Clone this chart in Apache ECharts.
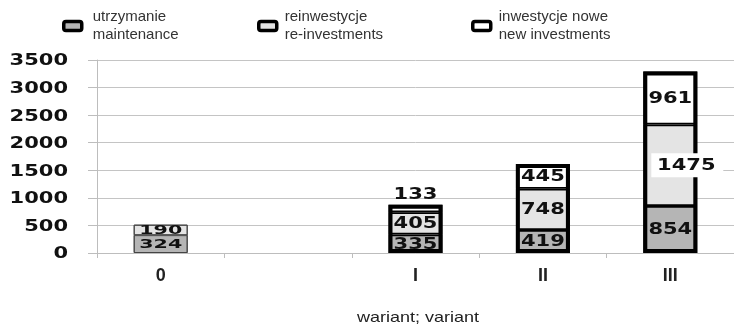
<!DOCTYPE html>
<html>
<head>
<meta charset="utf-8">
<script src="https://cdn.jsdelivr.net/npm/echarts@6/dist/echarts.min.js"></script>
<style>html,body{margin:0;padding:0;background:#fff}#c{width:734px;height:327px}</style>
</head>
<body>
<div id="c"></div>
<script>
const categories = ['0', '', 'I', 'II', 'III'];
const maintenance = [324, null, 335, 419, 854];
const reinvestments = [190, null, 405, 748, 1475];
const newInvestments = [null, null, 133, 445, 961];
const seriesNames = ['utrzymanie\nmaintenance', 'reinwestycje\nre-investments', 'inwestycje nowe\nnew investments'];
const yTickLabels = [0, 500, 1000, 1500, 2000, 2500, 3000, 3500];
const axisTitle = 'wariant; variant';

const seriesColors = ['#b5b5b5', '#e4e4e4', '#ffffff'];
const values = [maintenance, reinvestments, newInvestments];
const BAR_W = 54;

const series = values.map((arr, s) => ({
  name: seriesNames[s],
  type: 'bar',
  stack: 'total',
  barWidth: BAR_W,
  itemStyle: {color: seriesColors[s], borderColor: '#000', borderWidth: 1.75},
  data: arr.map((v, i) => v == null ? '-' : (i === 0 ? {value: v, itemStyle: {borderWidth: 1, borderColor: '#444'}} : v))
}));

const totals = categories.map((c, i) => {
  let t = 0, any = false;
  values.forEach(a => { if (a[i] != null) { t += a[i]; any = true; } });
  return any ? t : null;
});
series.push({
  type: 'bar',
  barWidth: BAR_W,
  barGap: '-100%',
  silent: true,
  z: 3,
  itemStyle: {color: 'rgba(0,0,0,0)', borderColor: '#000', borderWidth: 4},
  data: totals.map((t, i) => t == null ? '-' : (i === 0 ? {value: t, itemStyle: {borderWidth: 1, borderColor: '#444'}} : t))
});

const labelData = [];
categories.forEach((c, i) => {
  let bottom = 0;
  values.forEach((arr, s) => {
    const v = arr[i];
    if (v == null) return;
    labelData.push([i, bottom + v / 2, v, s, bottom + v]);
    bottom += v;
  });
});
series.push({
  type: 'custom',
  silent: true,
  clip: false,
  z: 10,
  encode: {x: 0, y: 1},
  data: labelData,
  renderItem: function (params, api) {
    const i = api.value(0), mid = api.value(1), v = api.value(2), s = api.value(3), top = api.value(4);
    let pt = api.coord([i, mid]);
    let fs = 15, sx = 1.4;
    if (i === 0) { fs = 12.5; sx = 1.65; }
    const children = [];
    if (s === 2 && i === 2) {
      pt = api.coord([i, top]);
      pt[1] -= 11;
    }
    if (s === 1 && i === 4) {
      pt[0] += 16;
      children.push({type: 'rect', shape: {x: pt[0] - 35, y: pt[1] - 12, width: 72, height: 24}, style: {fill: '#fff'}});
    }
    children.push({
      type: 'text', x: pt[0], y: pt[1] + 1, scaleX: sx,
      style: {text: String(v), fontFamily: 'DejaVu Sans', fontWeight: 'bold', fontSize: fs, fill: '#111', align: 'center', verticalAlign: 'middle'}
    });
    return {type: 'group', children: children};
  }
});

series.push({
  type: 'custom',
  silent: true,
  clip: false,
  z: 10,
  encode: {x: 0, y: 1},
  data: yTickLabels.map(v => [0, v]),
  renderItem: function (params, api) {
    const pt = api.coord([0, api.value(1)]);
    return {
      type: 'text', x: params.coordSys.x - 29, y: pt[1] + 1.5, scaleX: 1.4,
      style: {text: String(api.value(1)), fontFamily: 'DejaVu Sans', fontWeight: 'bold', fontSize: 15, fill: '#111', align: 'right', verticalAlign: 'middle'}
    };
  }
});

const legendLefts = [62, 257, 471];
const legendPads = [6, 3, 3];
const legends = seriesNames.map((n, i) => ({
  data: [n],
  left: legendLefts[i],
  top: 8,
  padding: 0,
  icon: 'roundRect',
  itemWidth: 18,
  itemHeight: 9,
  itemStyle: {borderColor: '#000', borderWidth: 3.5},
  selectedMode: false,
  textStyle: {fontFamily: 'Liberation Sans, Arial', fontSize: 15, lineHeight: 18, color: '#333', padding: [0, 0, 0, legendPads[i]]}
}));

const chart = echarts.init(document.getElementById('c'), null, {renderer: 'canvas'});
chart.setOption({
  animation: false,
  backgroundColor: '#fff',
  legend: legends,
  grid: {left: 97, width: 643, top: 60, bottom: 74, containLabel: false},
  xAxis: {
    type: 'category',
    data: categories,
    axisLine: {lineStyle: {color: '#bdbdbd', width: 1}},
    axisTick: {show: true, length: 5, lineStyle: {color: '#bdbdbd'}},
    axisLabel: {fontFamily: 'Liberation Sans, Arial', fontWeight: 'bold', fontSize: 18, color: '#222', margin: 14}
  },
  yAxis: {
    type: 'value',
    min: 0,
    max: yTickLabels[yTickLabels.length - 1],
    interval: yTickLabels[1] - yTickLabels[0],
    axisLine: {show: true, lineStyle: {color: '#bdbdbd'}},
    axisTick: {show: true, length: 9, lineStyle: {color: '#bdbdbd'}},
    splitLine: {lineStyle: {color: '#c4c4c4', width: 1}},
    axisLabel: {show: false}
  },
  graphic: [{
    type: 'text', x: 418, y: 318, scaleX: 1.2,
    style: {text: axisTitle, fontFamily: 'Liberation Sans, Arial', fontSize: 15, fill: '#222', align: 'center', verticalAlign: 'middle'}
  }],
  series: series
});
</script>
</body>
</html>
